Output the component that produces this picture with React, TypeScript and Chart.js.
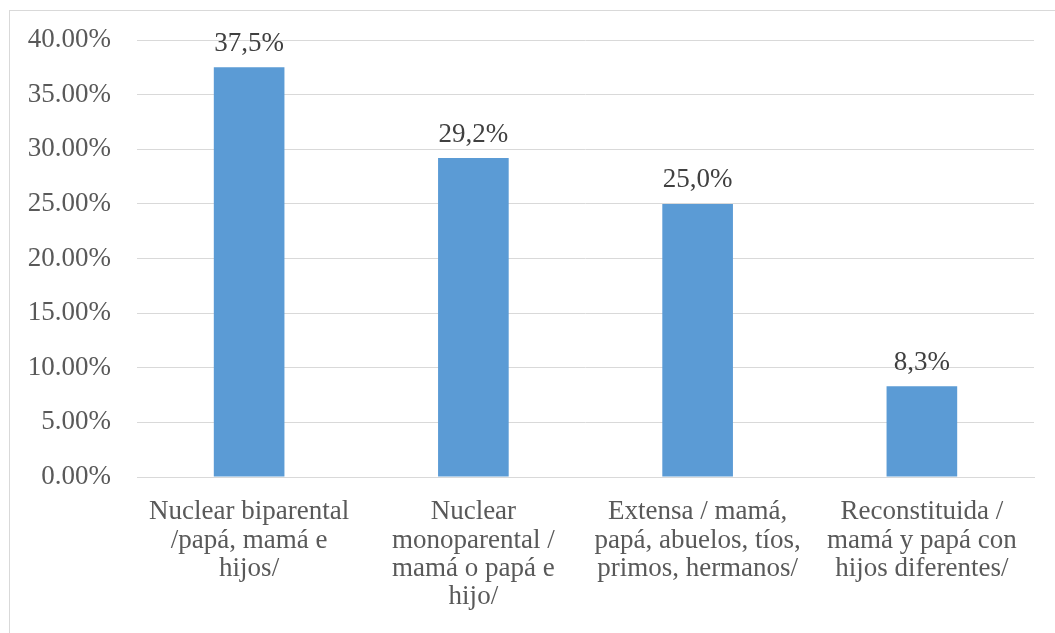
import React, { useEffect, useRef } from "react";
import { Chart, registerables } from "chart.js";

Chart.register(...registerables);

const categories: string[][] = [
  ["Nuclear biparental", "/papá, mamá e", "hijos/"],
  ["Nuclear", "monoparental /", "mamá o papá e", "hijo/"],
  ["Extensa / mamá,", "papá, abuelos, tíos,", "primos, hermanos/"],
  ["Reconstituida /", "mamá y papá con", "hijos diferentes/"],
];
const values: number[] = [0.375, 0.292, 0.25, 0.083];
const valueLabels: string[] = ["37,5%", "29,2%", "25,0%", "8,3%"];
const yMax = 0.4;
const yStep = 0.05;

const FONT = "'Liberation Serif', 'Times New Roman', serif";

const dataLabelPlugin = {
  id: "dataLabels",
  afterDatasetsDraw(chart: any) {
    const ctx = chart.ctx;
    const meta = chart.getDatasetMeta(0);
    ctx.save();
    ctx.font = `27px ${FONT}`;
    ctx.fillStyle = "#404040";
    ctx.textAlign = "center";
    ctx.textBaseline = "bottom";
    meta.data.forEach((bar: any, i: number) => {
      ctx.fillText(valueLabels[i], bar.x, bar.y - 10);
    });
    ctx.restore();
  },
};

export default function App() {
  const ref = useRef<HTMLCanvasElement>(null);
  useEffect(() => {
    if (!ref.current) return;
    const chart = new Chart(ref.current, {
      type: "bar",
      data: {
        labels: categories,
        datasets: [
          {
            data: values,
            backgroundColor: "#5B9BD5",
            barPercentage: 0.315,
            categoryPercentage: 1,
          },
        ],
      },
      options: {
        animation: false,
        responsive: false,
        maintainAspectRatio: false,
        layout: { padding: { left: 0, right: 21, top: 40, bottom: 0 } },
        plugins: { legend: { display: false }, tooltip: { enabled: false } },
        scales: {
          x: {
            grid: { display: false, drawTicks: false },
            border: { display: true, color: "#d9d9d9", width: 1 },
            ticks: {
              color: "#595959",
              font: { family: FONT, size: 27, lineHeight: 1.05 },
              padding: 21,
              maxRotation: 0,
              autoSkip: false,
            },
            afterFit: (s: any) => {
              s.height = 156;
            },
          },
          y: {
            min: 0,
            max: yMax,
            grid: { color: "#d9d9d9", drawTicks: false, lineWidth: 1 },
            border: { display: false },
            ticks: {
              stepSize: yStep,
              color: "#595959",
              font: { family: FONT, size: 27 },
              padding: 26,
              callback: (v: any) => (Number(v) * 100).toFixed(2) + "%",
            },
            afterFit: (s: any) => {
              s.width = 137;
              s.paddingTop = 0;
              s.paddingBottom = 0;
            },
          },
        },
      },
      plugins: [dataLabelPlugin],
    });
    return () => chart.destroy();
  }, []);
  return (
    <div style={{ position: "fixed", left: 0, top: 0, width: 1055, height: 633, overflow: "hidden", background: "#fff" }}>
      <div
        style={{
          position: "absolute",
          left: 9,
          top: 10,
          width: 1100,
          height: 700,
          border: "1px solid #d9d9d9",
        }}
      />
      <canvas ref={ref} width={1055} height={633} style={{ position: "absolute", left: 0, top: 0 }} />
    </div>
  );
}
